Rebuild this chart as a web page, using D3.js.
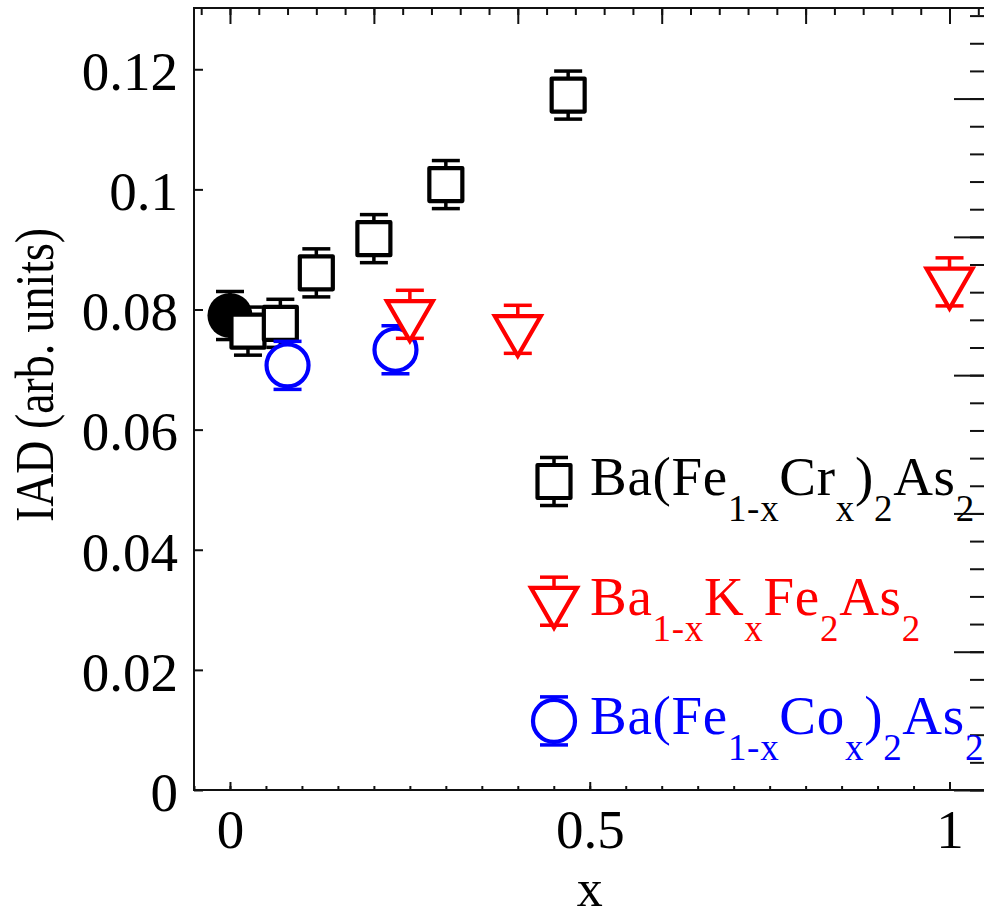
<!DOCTYPE html>
<html>
<head>
<meta charset="utf-8">
<script src="https://cdn.jsdelivr.net/npm/d3@7"></script>
<style>
  html, body { margin: 0; padding: 0; background: #fff; }
  svg { display: block; }
  text { font-family: "Liberation Serif", "Times New Roman", serif; }
</style>
</head>
<body>
<svg role="chart"></svg>
<script>
// parent compound (x = 0)
var parentX = [0];
var parentY = [0.079];
var parentErr = [0.004];

// Ba(Fe1-xCrx)2As2
var crX = [0.025, 0.07, 0.12, 0.2, 0.3, 0.47];
var crY = [0.0764, 0.0777, 0.0861, 0.0918, 0.1008, 0.1157];
var crErr = [0.004, 0.004, 0.004, 0.004, 0.004, 0.004];

// Ba(Fe1-xCox)2As2
var coX = [0.08, 0.23];
var coY = [0.0707, 0.0733];
var coErr = [0.004, 0.004];

// Ba1-xKxFe2As2
var kX = [0.25, 0.4, 1.0];
var kY = [0.0792, 0.0767, 0.0846];
var kErr = [0.004, 0.004, 0.004];

var yTicks = [0, 0.02, 0.04, 0.06, 0.08, 0.1, 0.12];
var yTickLabels = ['0', '0.02', '0.04', '0.06', '0.08', '0.1', '0.12'];
var xTicks = [0, 0.5, 1];
var xTickLabels = ['0', '0.5', '1'];

// legend labels: [text, isSubscript]
var legendCr = [['Ba(Fe', 0], ['1-x', 1], ['Cr', 0], ['x', 1], [')', 0], ['2', 1], ['As', 0], ['2', 1]];
var legendK = [['Ba', 0], ['1-x', 1], ['K', 0], ['x', 1], ['Fe', 0], ['2', 1], ['As', 0], ['2', 1]];
var legendCo = [['Ba(Fe', 0], ['1-x', 1], ['Co', 0], ['x', 1], [')', 0], ['2', 1], ['As', 0], ['2', 1]];

(function(){

  var width = 984,
      height = 919,
      fontSize = 55,
      subSize = 37;

  var svg = d3.select('[role="chart"]')
    .attr('width', width)
    .attr('height', height);

  var x = d3.scaleLinear().domain([-0.05, 1.05]).range([194, 985.5]);
  var y = d3.scaleLinear().domain([0, 0.1302]).range([790, 8]);
  // secondary right scale (only its ticks are visible)
  var yR = d3.scaleLinear().domain([0, 5.655]).range([790, 8]);

  var errPx = y(0) - y(0.004);

  function styleAxis(g) {
    g.select('.domain').remove();
    g.selectAll('.tick line').attr('stroke', '#111').attr('stroke-width', 2);
    g.selectAll('.tick text')
      .attr('font-family', '"Liberation Serif", "Times New Roman", serif')
      .attr('font-size', fontSize)
      .attr('fill', '#000');
  }

  var range = function(a, b, step) {
    return d3.range(Math.round(a / step), Math.round(b / step) + 1).map(function(i) { return +(i * step).toFixed(4); });
  };

  // left axis
  svg.append('g')
    .attr('transform', 'translate(' + x(-0.05) + ',0)')
    .call(d3.axisLeft(y).tickValues(yTicks).tickSize(-9).tickPadding(16)
      .tickFormat(function(d, i) { return yTickLabels[i]; }))
    .call(styleAxis)
    .selectAll('.tick text').attr('dy', '0.37em');

  // bottom axis, minor + major
  svg.append('g')
    .attr('transform', 'translate(0,' + y(0) + ')')
    .call(d3.axisBottom(x).tickValues(range(-0.05, 1.05, 0.05)).tickSize(-4).tickFormat(''))
    .call(styleAxis);
  svg.append('g')
    .attr('transform', 'translate(0,' + y(0) + ')')
    .call(d3.axisBottom(x).tickValues(xTicks).tickSize(-8).tickPadding(19)
      .tickFormat(function(d, i) { return xTickLabels[i]; }))
    .call(styleAxis);

  // top axis ticks
  svg.append('g')
    .attr('transform', 'translate(0,' + y.range()[1] + ')')
    .call(d3.axisTop(x).tickValues(range(-0.04, 1.04, 0.04)).tickSize(-7).tickFormat(''))
    .call(styleAxis);
  svg.append('g')
    .attr('transform', 'translate(0,' + y.range()[1] + ')')
    .call(d3.axisTop(x).tickValues(range(0, 1, 0.2)).tickSize(-16).tickFormat(''))
    .call(styleAxis);

  // right axis ticks
  svg.append('g')
    .attr('transform', 'translate(' + x(1.05) + ',0)')
    .call(d3.axisRight(yR).tickValues(range(0, 5.6, 0.2)).tickSize(-15.5).tickFormat(''))
    .call(styleAxis);
  svg.append('g')
    .attr('transform', 'translate(' + x(1.05) + ',0)')
    .call(d3.axisRight(yR).tickValues(range(0, 5, 1)).tickSize(-31.5).tickFormat(''))
    .call(styleAxis);

  // frame
  svg.append('rect')
    .attr('x', x(-0.05))
    .attr('y', y.range()[1])
    .attr('width', x(1.05) - x(-0.05))
    .attr('height', y(0) - y.range()[1])
    .attr('fill', 'none')
    .attr('stroke', '#111')
    .attr('stroke-width', 2);

  // axis titles
  svg.append('text')
    .attr('x', x(0.5))
    .attr('y', 906)
    .attr('text-anchor', 'middle')
    .attr('font-size', 52)
    .text('x');

  svg.append('text')
    .attr('transform', 'translate(53,375) rotate(-90)')
    .attr('text-anchor', 'middle')
    .attr('font-size', fontSize)
    .attr('textLength', 294)
    .attr('lengthAdjust', 'spacingAndGlyphs')
    .text('IAD (arb. units)');

  // marker shapes
  var markers = {
    square: { path: d3.symbol(d3.symbolSquare, 33 * 33)(), rotate: 0, join: 'round' },
    circle: { path: d3.symbol(d3.symbolCircle, Math.PI * 21 * 21)(), rotate: 0, join: 'round' },
    triangle: { path: d3.symbol(d3.symbolTriangle, Math.sqrt(3) / 4 * 46 * 46)(), rotate: 180, join: 'miter' },
    dot: { path: d3.symbol(d3.symbolCircle, Math.PI * 22.5 * 22.5)(), rotate: 0, join: 'round' }
  };

  function drawPoint(g, cx, cy, errUp, errDown, color, shape, filled) {
    var m = markers[shape];
    var p = g.append('g').attr('transform', 'translate(' + cx + ',' + cy + ')');
    p.append('line')
      .attr('x1', 0).attr('x2', 0)
      .attr('y1', -errUp).attr('y2', errDown)
      .attr('stroke', color).attr('stroke-width', 3.5);
    [-errUp, errDown].forEach(function(ey) {
      p.append('line')
        .attr('x1', -14).attr('x2', 14)
        .attr('y1', ey).attr('y2', ey)
        .attr('stroke', color).attr('stroke-width', 3.5);
    });
    p.append('path')
      .attr('d', m.path)
      .attr('transform', 'rotate(' + m.rotate + ')')
      .attr('fill', filled ? color : '#fff')
      .attr('stroke', color)
      .attr('stroke-width', filled ? 0 : 4.2)
      .attr('stroke-linejoin', m.join)
      .attr('stroke-miterlimit', 10);
  }

  function drawSeries(xs, ys, errs, color, shape, filled) {
    var g = svg.append('g');
    xs.forEach(function(xv, i) {
      drawPoint(g, x(xv), y(ys[i]),
        y(ys[i]) - y(ys[i] + errs[i]), y(ys[i] - errs[i]) - y(ys[i]),
        color, shape, filled);
    });
  }

  drawSeries(parentX, parentY, parentErr, '#000', 'dot', true);
  drawSeries(crX, crY, crErr, '#000', 'square', false);
  drawSeries(coX, coY, coErr, '#0000ff', 'circle', false);
  drawSeries(kX, kY, kErr, '#ff0000', 'triangle', false);

  // legend
  var legendItems = [
    { parts: legendCr, color: '#000', shape: 'square' },
    { parts: legendK, color: '#ff0000', shape: 'triangle' },
    { parts: legendCo, color: '#0000ff', shape: 'circle' }
  ];

  var legend = svg.append('g');
  legendItems.forEach(function(item, i) {
    var cy = 481.5 + i * 119.7;
    drawPoint(legend, 554, cy, errPx, errPx, item.color, item.shape, false);

    var t = legend.append('text')
      .attr('x', 590)
      .attr('y', cy + 13.5)
      .attr('fill', item.color)
      .attr('font-size', fontSize)
      .attr('letter-spacing', 0.7);
    var shifted = 0;
    item.parts.forEach(function(part) {
      var dy = part[1] ? 26 - shifted : -shifted;
      shifted = part[1] ? 26 : 0;
      t.append('tspan')
        .attr('dy', dy)
        .attr('font-size', part[1] ? subSize : fontSize)
        .text(part[0]);
    });
  });

})();
</script>
</body>
</html>
